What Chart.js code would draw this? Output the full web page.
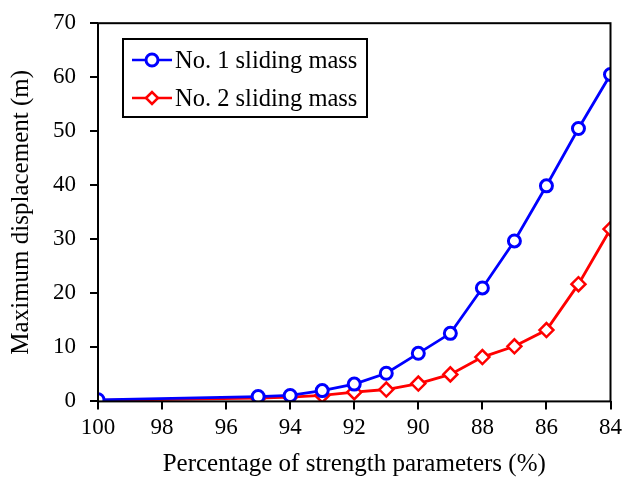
<!DOCTYPE html>
<html>
<head>
<meta charset="utf-8">
<script src="https://cdn.jsdelivr.net/npm/chart.js@4"></script>
<style>
  body { margin: 0; background: #fff; }
  #wrap { position: relative; width: 627px; height: 482px; }
  #legend {
    position: absolute; left: 122px; top: 38px; width: 246px; height: 80px;
    border: 2px solid #000; box-sizing: border-box; background: #fff;
    font-family: "Liberation Serif", serif; font-size: 24.5px; color: #000;
  }
  .item { position: absolute; left: 7px; height: 24px; display: flex; align-items: center; white-space: nowrap; }
  .item canvas { margin-right: 2px; }
</style>
</head>
<body>
<div id="wrap">
  <canvas id="line-chart" width="627" height="482"></canvas>
  <div id="legend">
    <div class="item" style="top: 8px;"><canvas id="lg1" width="42" height="24"></canvas>No. 1 sliding mass</div>
    <div class="item" style="top: 46px;"><canvas id="lg2" width="42" height="24"></canvas>No. 2 sliding mass</div>
  </div>
</div>
<script>
// 強度パラメータ (%)
const strength = [100, 95, 94, 93, 92, 91, 90, 89, 88, 87, 86, 85, 84];
// 最大変位 (m)
const mass1 = [0.3, 0.9, 1.1, 2.0, 3.2, 5.2, 8.9, 12.6, 21.0, 29.7, 39.9, 50.5, 60.5];
const mass2 = [0.2, 0.6, 0.8, 1.1, 1.7, 2.2, 3.3, 5.0, 8.2, 10.2, 13.2, 21.7, 31.9];
const xTicks = [100, 98, 96, 94, 92, 90, 88, 86, 84];
const yTicks = [0, 10, 20, 30, 40, 50, 60, 70];

const toPoints = (ys) => strength.map((x, i) => ({ x: x, y: ys[i] }));

// 枠線
const framePlugin = {
  id: 'frame',
  afterDraw(chart) {
    const { ctx, chartArea: a } = chart;
    ctx.save();
    ctx.strokeStyle = '#000';
    ctx.lineWidth = 2;
    ctx.strokeRect(a.left, a.top, a.right - a.left, a.bottom - a.top);
    ctx.restore();
  },
};

const tickFont = { family: 'Liberation Serif', size: 23 };
const titleFont = { family: 'Liberation Serif', size: 25 };

new Chart(document.getElementById('line-chart').getContext('2d'), {
  type: 'line',
  data: {
    datasets: [
      {
        label: 'No. 1 sliding mass',
        data: toPoints(mass1),
        borderColor: '#0000ff',
        backgroundColor: '#ffffff',
        borderWidth: 2.8,
        pointStyle: 'circle',
        pointRadius: 6,
        pointBorderWidth: 3,
        pointBackgroundColor: '#ffffff',
        pointBorderColor: '#0000ff',
      },
      {
        label: 'No. 2 sliding mass',
        data: toPoints(mass2),
        borderColor: '#ff0000',
        backgroundColor: '#ffffff',
        borderWidth: 2.8,
        pointStyle: 'rectRot',
        pointRadius: 7,
        pointBorderWidth: 2.5,
        pointBackgroundColor: '#ffffff',
        pointBorderColor: '#ff0000',
      },
    ],
  },
  options: {
    responsive: false,
    animation: false,
    layout: { padding: { top: 10, right: 2, left: 4, bottom: 3 } },
    plugins: { legend: { display: false }, tooltip: { enabled: false } },
    scales: {
      x: {
        type: 'linear',
        reverse: true,
        min: 84,
        max: 100,
        afterBuildTicks: (s) => { s.ticks = xTicks.map((v) => ({ value: v })); },
        ticks: { color: '#000', font: tickFont, padding: 5, maxRotation: 0 },
        grid: { drawOnChartArea: false, drawTicks: true, tickLength: 8, tickColor: '#000', lineWidth: 2 },
        border: { display: false },
        title: { display: true, text: 'Percentage of strength parameters (%)', color: '#000', font: titleFont, padding: { top: 2, bottom: 0 } },
      },
      y: {
        min: 0,
        max: 70,
        afterBuildTicks: (s) => { s.ticks = yTicks.map((v) => ({ value: v })); },
        ticks: { color: '#000', font: { family: 'Liberation Serif', size: 23, lineHeight: 0.8 }, padding: 14 },
        grid: { drawOnChartArea: false, drawTicks: true, tickLength: 8, tickColor: '#000', lineWidth: 2 },
        border: { display: false },
        title: { display: true, text: 'Maximum displacement (m)', color: '#000', font: titleFont, padding: { top: 2, bottom: 3 } },
      },
    },
  },
  plugins: [framePlugin],
});

// 凡例の記号
function drawSample(id, color, style, r, w) {
  const c = document.getElementById(id).getContext('2d');
  c.strokeStyle = color;
  c.lineWidth = 2.5;
  c.beginPath();
  c.moveTo(1, 12);
  c.lineTo(41, 12);
  c.stroke();
  c.fillStyle = '#fff';
  c.lineWidth = w;
  Chart.helpers.drawPoint(c, { pointStyle: style, radius: r, borderWidth: w }, 21, 12);
}
drawSample('lg1', '#0000ff', 'circle', 6, 3);
drawSample('lg2', '#ff0000', 'rectRot', 6, 2.5);
</script>
</body>
</html>
